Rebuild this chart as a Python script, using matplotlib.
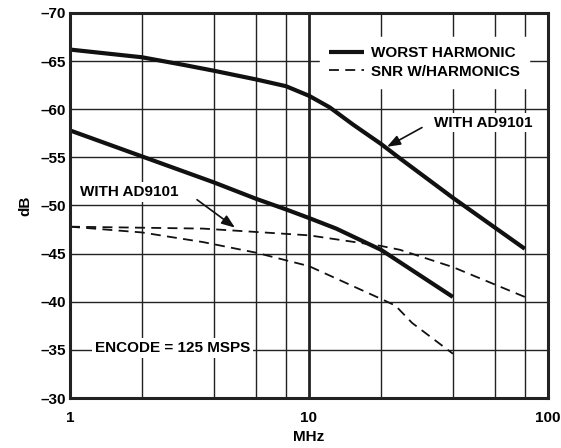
import numpy as np
import matplotlib
matplotlib.use('Agg')
import matplotlib.pyplot as plt

plt.rcParams['font.family'] = ['Liberation Sans', 'DejaVu Sans']
plt.rcParams['font.weight'] = 'bold'

# data (MHz, dB)
freq_harm_ad = [1, 2, 3, 4, 6, 8, 10, 12.2, 15.3, 20, 24, 40, 80]
harm_ad = [-66.2, -65.4, -64.6, -64.0, -63.1, -62.4, -61.4, -60.2, -58.4, -56.4, -54.9, -50.8, -45.5]

freq_harm = [1, 2, 4, 6, 8, 10, 13, 20, 40]
harm = [-57.8, -55.1, -52.4, -50.7, -49.6, -48.7, -47.6, -45.4, -40.5]

freq_snr_ad = [1, 3.6, 10, 20, 24, 40, 80]
snr_ad = [-47.8, -47.6, -46.9, -45.8, -45.4, -43.6, -40.5]

freq_snr = [1, 2, 3.6, 6, 10, 20, 23, 27, 40]
snr = [-47.8, -47.2, -46.2, -45.1, -43.7, -40.3, -39.6, -37.8, -34.6]

y_ticks = [-70, -65, -60, -55, -50, -45, -40, -35, -30]
x_ticks = [1, 10, 100]
x_minor = [2, 4, 6, 8, 20, 40, 60, 80]

fs = 11

fig = plt.figure(figsize=(5.61, 4.48), dpi=100)
ax = fig.add_axes([0.1248, 0.1116, 0.852, 0.8594])

ax.set_xscale('log')
ax.set_xlim(1, 100)
ax.set_ylim(-30, -70)

ax.set_xticks(x_ticks)
ax.set_xticklabels(['1', '10', '100'])
ax.set_xticks(x_minor, minor=True)
ax.set_xticklabels([], minor=True)
ax.set_yticks(y_ticks)
ax.set_yticklabels(['\u2013' + str(abs(v)) for v in y_ticks])
ax.tick_params(which='both', length=0, labelsize=fs, pad=3)
ax.tick_params(axis='x', pad=9)

ax.set_axisbelow(True)
ax.xaxis.grid(True, which='major', color='#222222', lw=2.0)
ax.xaxis.grid(True, which='minor', color='#222222', lw=1.0)
ax.yaxis.grid(True, which='major', color='#222222', lw=1.0)
for s in ax.spines.values():
    s.set_linewidth(2.2)
    s.set_color('#222222')

ax.plot(freq_harm_ad, harm_ad, color='#111111', lw=3.0, solid_capstyle='butt', label='WORST HARMONIC')
ax.plot(freq_harm, harm, color='#111111', lw=3.0, solid_capstyle='butt')
ax.plot(freq_snr_ad, snr_ad, color='#111111', lw=1.3, dashes=(5.5, 3.5), label='SNR W/HARMONICS')
ax.plot(freq_snr, snr, color='#111111', lw=1.3, dashes=(5.5, 3.5))

leg = ax.legend(loc='upper left', bbox_to_anchor=(0.506, 0.958), fontsize=fs,
                frameon=True, fancybox=False, framealpha=1, facecolor='white',
                edgecolor='white', handlelength=2.3, handletextpad=0.5,
                labelspacing=0.3, borderpad=0.6)
for t in leg.get_texts():
    t.set_fontweight('bold')

box = dict(facecolor='white', edgecolor='none', pad=2)
ax.text(1.1, -51.4, 'WITH AD9101', fontsize=fs, va='center', ha='left', bbox=box)
ax.text(33.5, -58.6, 'WITH AD9101', fontsize=fs, va='center', ha='left', bbox=box)
ax.text(1.27, -35.2, 'ENCODE = 125 MSPS', fontsize=fs, va='center', ha='left', bbox=box)

arrow = dict(arrowstyle='-|>,head_length=0.8,head_width=0.3', color='#111111', lw=1.2,
             shrinkA=0, shrinkB=0)
ax.annotate('', xy=(4.9, -47.7), xytext=(3.4, -50.6), arrowprops=arrow)
ax.annotate('', xy=(21.2, -56.1), xytext=(29.7, -58.1), arrowprops=arrow)

ax.set_xlabel('MHz', fontsize=fs, fontweight='bold', labelpad=4)
ax.set_ylabel('dB', fontsize=fs, fontweight='bold', labelpad=6)

fig.savefig('out.png', dpi=100)
